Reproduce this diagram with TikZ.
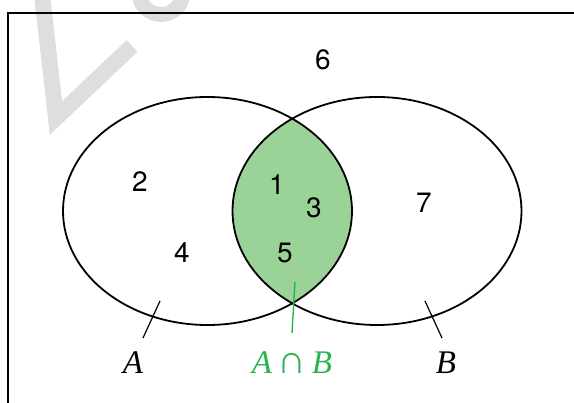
\documentclass[tikz,border=0pt]{standalone}
\usepackage{fontspec}
\newfontfamily\digitfont{TeX Gyre Heros}
\newfontfamily\namefont{Liberation Serif}
\usetikzlibrary{positioning}
\definecolor{LensGreen}{RGB}{155,210,152}
\definecolor{LabelGreen}{RGB}{40,180,80}
\definecolor{MarkGray}{RGB}{222,222,222}
\newcommand{\setellipse}[1]{(#1,211) ellipse [x radius=144.5,y radius=114]}

\begin{document}
\begin{tikzpicture}[x=1pt,y=-1pt,
  region/.style={font=\digitfont\fontsize{28}{30}\selectfont,inner sep=0pt},
  setname/.style={font=\namefont\itshape\fontsize{33}{36}\selectfont,inner sep=0pt}]
  \useasboundingbox (0,0) rectangle (574,403);
  \clip (0,0) rectangle (574,403);
  % watermark
  \draw[MarkGray,line width=16pt] (42,-5)--(56,118)--(132,46);
  \draw[MarkGray,line width=15pt] (161,-7.5) circle [radius=22];
  % frame
  \draw[line width=1.8pt] (8,410) |- (580,13);
  % sets
  \begin{scope}
    \clip \setellipse{207.5};
    \fill[LensGreen] \setellipse{377};
  \end{scope}
  \draw[line width=1.8pt] \setellipse{207.5} \setellipse{377};
  \node[region] (r6) at (323,60) {6};
  \node[region] (r2) at (140,182) {2};
  \node[region] (r4) at (182,253) {4};
  \node[region] (r1) at (277,185) {1};
  \node[region] (r3) at (314,208) {3};
  \node[region] (r5) at (285,253) {5};
  \node[region] (r7) at (424,203) {7};
  % labels
  \node[setname] (lA) at (133,363) {A};
  \node[setname,LabelGreen] (lAB) at (292,363)
    {A\,{\upshape\fontsize{40}{40}\selectfont∩}\,B};
  \node[setname] (lB) at (446,363) {B};
  \coordinate (tA1) at (160,301); \coordinate (tA2) at (143,338);
  \coordinate (tB1) at (425,301); \coordinate (tB2) at (442,338);
  \coordinate (tC1) at (295,282); \coordinate (tC2) at (292,333);
  \draw[line width=1.2pt] (tA1)--(tA2) (tB1)--(tB2);
  \draw[LabelGreen,line width=1.4pt] (tC1)--(tC2);
\end{tikzpicture}
\end{document}
